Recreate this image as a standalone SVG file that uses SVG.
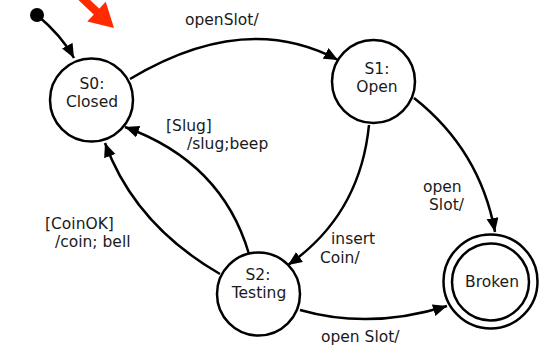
<svg xmlns="http://www.w3.org/2000/svg" width="540" height="350" viewBox="0 0 540 350">
  <style>
    .state { fill: #ffffff; stroke: #000000; stroke-width: 2.5; }
    .edge { fill: none; stroke: #000000; stroke-width: 2.5; marker-end: url(#arrow); }
    text { font-family: "DejaVu Sans", Verdana, sans-serif; font-size: 15.5px; fill: #1a1a1a; }
    .c { text-anchor: middle; }
  </style>
  <defs>
    <marker id="arrow" markerUnits="userSpaceOnUse" markerWidth="15" markerHeight="13" refX="14" refY="6" orient="auto">
      <path d="M0,0 L14,6 L0,12 z" fill="#000000"/>
    </marker>
  </defs>
  <rect width="540" height="350" fill="#ffffff"/>

  <!-- pointer -->
  <g id="pointer">
    <line x1="80" y1="-4" x2="98" y2="13" stroke="#ff2a00" stroke-width="8"/>
    <polygon points="114,28 105.7,1.7 87.3,21.5" fill="#ff2a00"/>
  </g>

  <!-- transitions -->
  <g id="connectors">
    <path class="edge" d="M37,15 Q62,36 74,58"/>
    <path class="edge" d="M130,79 Q245,10 338,60"/>
    <path class="edge" d="M414,98 Q480,150 495,232"/>
    <path class="edge" d="M369,125 Q360,215 288,265"/>
    <path class="edge" d="M300,310 Q370,330 447,306"/>
    <path class="edge" d="M249,254 Q222,162 125,127"/>
    <path class="edge" d="M220,274 Q135,225 105,143"/>
    <text x="185" y="25">openSlot/</text>
    <text x="423" y="192">open</text>
    <text x="429" y="210">Slot/</text>
    <text x="331" y="244">insert</text>
    <text x="320" y="263">Coin/</text>
    <text x="321" y="342">open Slot/</text>
    <text x="166" y="131">[Slug]</text>
    <text x="187" y="149">/slug;beep</text>
    <text x="45" y="229">[CoinOK]</text>
    <text x="55" y="247">/coin; bell</text>
  </g>

  <!-- initial pseudo-state -->
  <g id="start">
    <circle cx="37" cy="15" r="7" fill="#000000"/>
  </g>

  <g id="s0">
    <circle class="state" cx="91.5" cy="100" r="41.5"/>
    <text class="c" x="92" y="89">S0:</text>
    <text class="c" x="92" y="107">Closed</text>
  </g>

  <g id="s1">
    <circle class="state" cx="373.5" cy="81.5" r="41.5"/>
    <text class="c" x="377" y="74">S1:</text>
    <text class="c" x="377" y="92">Open</text>
  </g>

  <g id="s2">
    <circle class="state" cx="258.5" cy="294" r="41.5"/>
    <text class="c" x="258" y="280">S2:</text>
    <text class="c" x="259" y="298">Testing</text>
  </g>

  <g id="broken">
    <circle class="state" cx="490.5" cy="281.5" r="47"/>
    <circle class="state" cx="490.5" cy="282" r="38.5"/>
    <text class="c" x="492" y="287">Broken</text>
  </g>
</svg>
